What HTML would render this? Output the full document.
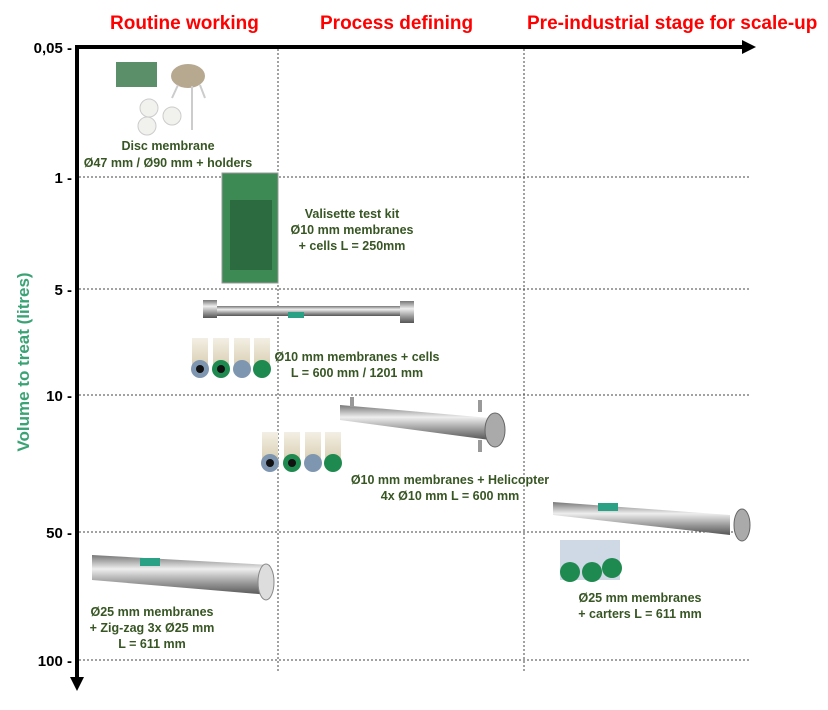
<!DOCTYPE html>
<html><head><style>
body{margin:0;background:#fff;width:828px;height:705px;overflow:hidden}
text{font-family:"Liberation Sans",Arial,sans-serif}
.h{fill:#f00;font-weight:bold;font-size:19px}
.t{font-weight:bold;font-size:15px;fill:#000}
.g{fill:#375623;font-weight:bold;font-size:12.5px}
</style></head><body>
<svg width="828" height="705" xmlns="http://www.w3.org/2000/svg">
<defs>
<linearGradient id="steel" x1="0" y1="0" x2="0" y2="1"><stop offset="0" stop-color="#777"/><stop offset=".35" stop-color="#eee"/><stop offset=".7" stop-color="#999"/><stop offset="1" stop-color="#555"/></linearGradient>
<linearGradient id="cer" x1="0" y1="0" x2="0" y2="1"><stop offset="0" stop-color="#f3efe4"/><stop offset="1" stop-color="#d8cdb0"/></linearGradient>
</defs>
<text class="h" x="110" y="29">Routine working</text>
<text class="h" x="320" y="29">Process defining</text>
<text class="h" x="527" y="29">Pre-industrial stage for scale-up</text>
<g stroke="#444" stroke-width="1" stroke-dasharray="2,2" fill="none">
<line x1="79" y1="177" x2="750" y2="177"/><line x1="79" y1="289" x2="750" y2="289"/>
<line x1="79" y1="395" x2="750" y2="395"/><line x1="79" y1="532" x2="750" y2="532"/>
<line x1="79" y1="660" x2="750" y2="660"/>
<line x1="278" y1="49" x2="278" y2="672"/><line x1="524" y1="49" x2="524" y2="672"/>
</g>
<line x1="77" y1="47" x2="745" y2="47" stroke="#000" stroke-width="4"/>
<polygon points="742,40 756,47 742,54" fill="#000"/>
<line x1="77" y1="45" x2="77" y2="680" stroke="#000" stroke-width="4"/>
<polygon points="70,677 77,691 84,677" fill="#000"/>
<text class="t" x="72" y="53" text-anchor="end">0,05 -</text>
<text class="t" x="72" y="183" text-anchor="end">1 -</text>
<text class="t" x="72" y="295" text-anchor="end">5 -</text>
<text class="t" x="72" y="401" text-anchor="end">10 -</text>
<text class="t" x="72" y="538" text-anchor="end">50 -</text>
<text class="t" x="72" y="666" text-anchor="end">100 -</text>
<text transform="translate(29,362) rotate(-90)" text-anchor="middle" fill="#3aa374" font-weight="bold" font-size="17">Volume to treat (litres)</text>
<!-- disc kit -->
<rect x="116" y="62" width="41" height="25" fill="#5b8f6a"/>
<circle cx="149" cy="108" r="9" fill="#f1f1ee" stroke="#ccc"/><circle cx="172" cy="116" r="9" fill="#f1f1ee" stroke="#ccc"/><circle cx="147" cy="126" r="9" fill="#f1f1ee" stroke="#ccc"/>
<ellipse cx="188" cy="76" rx="17" ry="12" fill="#b7a890"/><line x1="178" y1="85" x2="172" y2="98" stroke="#ccc" stroke-width="2"/><line x1="192" y1="86" x2="192" y2="130" stroke="#ccc" stroke-width="2"/><line x1="200" y1="85" x2="205" y2="98" stroke="#ccc" stroke-width="2"/>
<text class="g" x="168" y="150" text-anchor="middle">Disc membrane</text>
<text class="g" x="168" y="167" text-anchor="middle">Ø47 mm / Ø90 mm + holders</text>
<!-- valisette -->
<rect x="222" y="173" width="56" height="110" fill="#3d8a55" stroke="#999"/>
<rect x="230" y="200" width="42" height="70" fill="#2c6b40"/>
<text class="g" x="352" y="218" text-anchor="middle">Valisette test kit</text>
<text class="g" x="352" y="234" text-anchor="middle">Ø10 mm membranes</text>
<text class="g" x="352" y="250" text-anchor="middle">+ cells L = 250mm</text>
<!-- long tube -->
<rect x="205" y="306" width="205" height="10" fill="url(#steel)"/>
<rect x="203" y="300" width="14" height="18" fill="url(#steel)"/><rect x="400" y="301" width="14" height="22" fill="url(#steel)"/>
<rect x="288" y="312" width="16" height="6" fill="#2aa085"/>
<g>
<path d="M192 338h16v30h-16z" fill="url(#cer)"/><circle cx="200" cy="369" r="9" fill="#7f96b1"/><circle cx="200" cy="369" r="4" fill="#111"/>
<path d="M213 338h16v30h-16z" fill="url(#cer)"/><circle cx="221" cy="369" r="9" fill="#1e8a4f"/><circle cx="221" cy="369" r="4" fill="#111"/>
<path d="M234 338h16v30h-16z" fill="url(#cer)"/><circle cx="242" cy="369" r="9" fill="#7f96b1"/>
<path d="M254 338h16v30h-16z" fill="url(#cer)"/><circle cx="262" cy="369" r="9" fill="#1e8a4f"/>
</g>
<text class="g" x="357" y="361" text-anchor="middle">Ø10 mm membranes + cells</text>
<text class="g" x="357" y="377" text-anchor="middle">L = 600 mm / 1201 mm</text>
<!-- helicopter -->
<polygon points="340,405 490,418 490,440 340,420" fill="url(#steel)"/>
<ellipse cx="495" cy="430" rx="10" ry="17" fill="#aaa" stroke="#666"/>
<rect x="350" y="397" width="4" height="10" fill="#999"/><rect x="478" y="400" width="4" height="12" fill="#999"/><rect x="478" y="440" width="4" height="12" fill="#999"/>
<g>
<path d="M262 432h16v30h-16z" fill="url(#cer)"/><circle cx="270" cy="463" r="9" fill="#7f96b1"/><circle cx="270" cy="463" r="4" fill="#111"/>
<path d="M284 432h16v30h-16z" fill="url(#cer)"/><circle cx="292" cy="463" r="9" fill="#1e8a4f"/><circle cx="292" cy="463" r="4" fill="#111"/>
<path d="M305 432h16v30h-16z" fill="url(#cer)"/><circle cx="313" cy="463" r="9" fill="#7f96b1"/>
<path d="M325 432h16v30h-16z" fill="url(#cer)"/><circle cx="333" cy="463" r="9" fill="#1e8a4f"/>
</g>
<text class="g" x="450" y="484" text-anchor="middle">Ø10 mm membranes  + Helicopter</text>
<text class="g" x="450" y="500" text-anchor="middle">4x Ø10 mm L = 600 mm</text>
<!-- right module -->
<polygon points="553,502 730,515 730,535 553,515" fill="url(#steel)"/>
<ellipse cx="742" cy="525" rx="8" ry="16" fill="#aaa" stroke="#666"/>
<rect x="598" y="503" width="20" height="8" fill="#2aa085"/>
<rect x="560" y="540" width="60" height="40" fill="#cfd9e6"/>
<circle cx="570" cy="572" r="10" fill="#1e8a4f"/><circle cx="592" cy="572" r="10" fill="#1e8a4f"/><circle cx="612" cy="568" r="10" fill="#1e8a4f"/>
<text class="g" x="640" y="602" text-anchor="middle">Ø25 mm membranes</text>
<text class="g" x="640" y="618" text-anchor="middle">+ carters L = 611 mm</text>
<!-- zigzag -->
<polygon points="92,555 270,565 270,595 92,580" fill="url(#steel)"/>
<ellipse cx="266" cy="582" rx="8" ry="18" fill="#ddd" stroke="#888"/>
<rect x="140" y="558" width="20" height="8" fill="#2aa085"/>
<text class="g" x="152" y="616" text-anchor="middle">Ø25 mm membranes</text>
<text class="g" x="152" y="632" text-anchor="middle">+ Zig-zag 3x Ø25 mm</text>
<text class="g" x="152" y="648" text-anchor="middle">L = 611 mm</text>
</svg>
</body></html>
